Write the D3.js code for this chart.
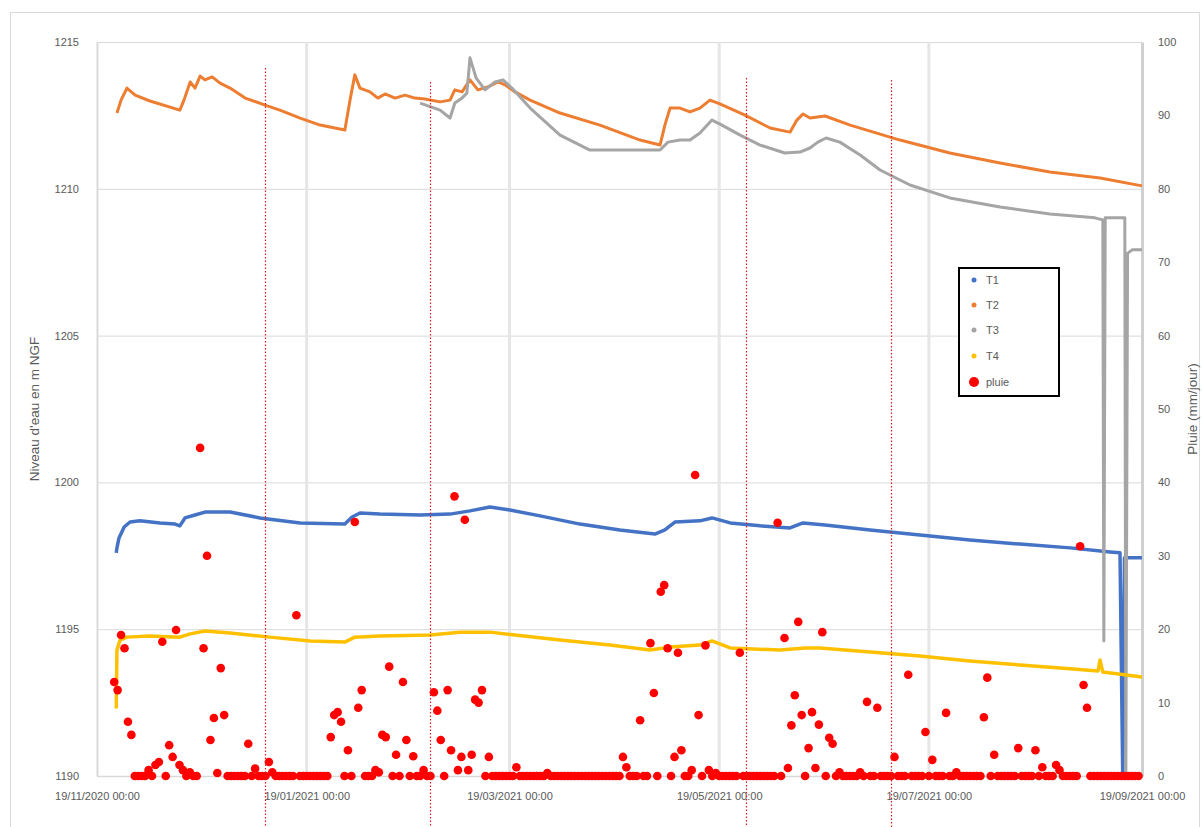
<!DOCTYPE html>
<html><head><meta charset="utf-8">
<script src="https://cdn.jsdelivr.net/npm/d3@7"></script>
<style>body{margin:0;background:#fff}svg{display:block}text{font-family:"Liberation Sans",Arial,sans-serif}</style>
</head><body>
<script>
// ---- data ----
const startDate = Date.UTC(2020, 10, 19);           // 19/11/2020 00:00
const endDate = Date.UTC(2021, 8, 19);              // 19/09/2021 00:00
const xTickDates = [Date.UTC(2020,10,19), Date.UTC(2021,0,19), Date.UTC(2021,2,19), Date.UTC(2021,4,19), Date.UTC(2021,6,19), Date.UTC(2021,8,19)];
const leftTicks = [1190, 1195, 1200, 1205, 1210, 1215];
const rightTicks = [0,10,20,30,40,50,60,70,80,90,100];
const seriesNames = ["T1","T2","T3","T4"];
const seriesColors = ["#4472c4","#ed7d31","#a5a5a5","#ffc000"];
const rainName = "pluie";
// [day offset from 19/11/2020, level m NGF]
const t1 = [[5.6,1197.6],[5.8,1197.77],[6.4,1198.11],[7.9,1198.48],[9.6,1198.65],[12.5,1198.69],[18.3,1198.62],[22.7,1198.58],[24.1,1198.52],[25.6,1198.79],[28.5,1198.89],[31.4,1198.99],[38.7,1198.99],[47.4,1198.79],[59.1,1198.62],[72.1,1198.58],[74.2,1198.82],[76.5,1198.96],[82.3,1198.92],[94,1198.89],[102.7,1198.92],[108.5,1199.03],[114.3,1199.16],[120.1,1199.06],[128.9,1198.86],[140.5,1198.58],[152.1,1198.38],[162.3,1198.24],[165.2,1198.38],[168.1,1198.65],[175.4,1198.69],[178.9,1198.79],[184.2,1198.62],[192.9,1198.52],[201.6,1198.45],[205.4,1198.62],[211.8,1198.55],[224.9,1198.38],[239.4,1198.21],[253.9,1198.04],[268.5,1197.9],[283.1,1197.77],[294.7,1197.63],[297.6,1197.6],[298.4,1190.0],[298.9,1197.43],[304,1197.43]];
const t2 = [[5.8,1212.58],[7.0,1213.02],[8.7,1213.43],[11.1,1213.19],[15.4,1212.99],[24.1,1212.68],[25.3,1213.02],[27.1,1213.64],[28.5,1213.43],[30,1213.84],[31.4,1213.71],[33.5,1213.81],[35.8,1213.6],[38.7,1213.43],[43.1,1213.09],[48.9,1212.85],[53.2,1212.68],[59.1,1212.41],[64.9,1212.17],[72.1,1212.0],[73.6,1213.02],[75,1213.88],[76.5,1213.43],[79.4,1213.3],[81.7,1213.09],[83.8,1213.23],[86.7,1213.09],[89.6,1213.19],[92.5,1213.09],[95.4,1213.06],[99.8,1212.96],[102.7,1213.02],[104.1,1213.37],[106.2,1213.3],[108.5,1213.71],[110.8,1213.37],[113.7,1213.47],[116.7,1213.64],[118.7,1213.54],[121.6,1213.3],[126,1213.02],[134.7,1212.58],[146.3,1212.17],[158,1211.66],[163.8,1211.49],[165.2,1212.17],[166.7,1212.75],[169.6,1212.75],[172.5,1212.62],[175.4,1212.75],[178.3,1213.02],[181.2,1212.89],[188.5,1212.51],[195.8,1212.07],[201.6,1211.93],[203.6,1212.34],[205.4,1212.55],[207.4,1212.41],[211.8,1212.48],[219.1,1212.17],[233.6,1211.66],[248.1,1211.22],[262.7,1210.88],[277.2,1210.57],[291.8,1210.37],[304,1210.1]];
const t3 = [[94,1212.92],[99.8,1212.68],[102.7,1212.41],[104.1,1212.92],[106.2,1213.09],[107.6,1213.26],[108.5,1214.46],[110.3,1213.77],[112.9,1213.37],[115.8,1213.64],[118.1,1213.71],[120.7,1213.43],[126,1212.75],[134.7,1211.83],[143.4,1211.32],[158,1211.32],[163.8,1211.32],[166.1,1211.59],[169.6,1211.66],[172.5,1211.66],[175.4,1211.9],[178.9,1212.34],[181.8,1212.17],[187.1,1211.83],[192.9,1211.49],[200.1,1211.22],[204.5,1211.25],[207.4,1211.39],[209.7,1211.59],[212.1,1211.73],[216.1,1211.59],[222,1211.15],[227.8,1210.64],[236.5,1210.13],[248.1,1209.69],[262.7,1209.38],[277.2,1209.14],[290.3,1209.01],[292.6,1208.94],[292.9,1194.6],[293.3,1209.01],[299.0,1209.01],[299.3,1190.0],[299.8,1207.8],[301.1,1207.92],[304,1207.92]];
const t4 = [[5.6,1192.3],[5.8,1194.29],[6.7,1194.63],[8.7,1194.73],[15.4,1194.77],[24.1,1194.73],[27.1,1194.84],[31.4,1194.94],[38.7,1194.87],[50.3,1194.73],[62,1194.6],[72.1,1194.56],[75,1194.73],[82.3,1194.77],[96.9,1194.8],[105.6,1194.9],[114.3,1194.9],[121.6,1194.8],[134.7,1194.63],[149.2,1194.46],[160.9,1194.29],[166.7,1194.39],[175.4,1194.46],[178.9,1194.6],[184.2,1194.36],[198.7,1194.29],[206,1194.36],[210.3,1194.36],[224.9,1194.22],[239.4,1194.09],[253.9,1193.92],[268.5,1193.78],[283.1,1193.65],[291.2,1193.58],[291.8,1193.95],[292.6,1193.54],[304,1193.37]];
// daily rain (mm), first value = day 5 (24/11/2020)
const rainFirstDay = 5;
const rain = [
12.8,11.7,19.2,17.4,7.4,5.6,0,0,0,0,
0.8,0,1.5,1.9,18.3,0,4.2,2.6,19.9,1.5,
0.8,0,0.5,0,0,44.7,17.4,30.0,4.9,7.9,
0.4,14.7,8.3,0,0,0,0,0,0,4.4,
0,1.0,0,0,0,1.9,0.5,0,0,0,
0,0,0,21.9,0,0,0,0,0,0,
0,0,0,5.3,8.3,8.7,7.4,0,3.5,0,
34.6,9.3,11.7,0,0,0,0.8,0.5,5.6,5.3,
14.9,0,2.9,0,12.8,4.9,0,2.7,0,0,
0.8,0,0,11.4,8.9,4.9,0,11.7,3.5,38.1,
0.8,2.6,34.9,0.8,2.9,10.4,10.0,11.7,0,2.6,
0,0,0,0,0,0,0,1.2,0,0,
0,0,0,0,0,0,0.4,0,0,0,
0,0,0,0,0,0,0,0,0,0,
0,0,0,0,0,0,0,0,2.6,1.2,
0,0,0,7.6,0,0,18.1,11.3,0,25.1,
26.0,17.4,0,2.6,16.8,3.5,0,0,0.8,41.0,
8.3,0,17.8,0.8,0,0.4,0,0,0,0,
0,0,16.8,0,0,0,0,0,0,0,
0,0,0,34.5,0,18.8,1.1,6.9,11.0,21.0,
8.3,0,3.8,8.7,1.1,7.0,19.6,0,5.2,4.4,
0,0.5,0,0,0,0,0,0.5,0,10.1,
0,0,9.3,0,0,0,0,2.6,0,0,
0,13.8,0,0,0,0,6.0,0,2.2,0,
0,0,8.6,0,0,0.5,0,0,0,0,
0,0,0,8.0,13.4,0,2.9,0,0,0,
0,0,0,3.8,0,0,0,0,3.5,0,
1.2,0,0,0,1.5,0.8,0,0,0,0,
0,31.3,12.4,9.3,0,0,0,0,0,0,
0,0,0,0,0,0,0,0,0];
// annotation (red dotted verticals), day offsets
const markerDays = [48.9, 96.9, 188.8, 231.0];
const leftTitle = "Niveau d'eau en m NGF";
const rightTitle = "Pluie (mm/jour)";

// ---- drawing ----
const W = 1202, H = 827;
const m = {l: 97, r: 1142, t: 42, b: 776};
const day = 86400000;
const toDate = d => new Date(startDate + d * day);
const svg = d3.select("body").append("svg").attr("width", W).attr("height", H);

svg.append("rect").attr("x", 10.5).attr("y", 12.5).attr("width", 1189).attr("height", 830)
  .attr("fill", "#fff").attr("stroke", "#d9d9d9");

const x = d3.scaleUtc().domain([new Date(startDate), new Date(endDate)]).range([m.l, m.r]);
const yL = d3.scaleLinear().domain([1190, 1215]).range([m.b, m.t]);
const yR = d3.scaleLinear().domain([0, 100]).range([m.b, m.t]);

// gridlines
svg.append("g").selectAll("line").data(leftTicks).join("line")
  .attr("x1", m.l).attr("x2", m.r).attr("y1", d => yL(d) + 0.5).attr("y2", d => yL(d) + 0.5)
  .attr("stroke", "#d9d9d9").attr("stroke-width", 1);
svg.append("g").selectAll("line").data(xTickDates.slice(1, -1)).join("line")
  .attr("x1", d => x(new Date(d))).attr("x2", d => x(new Date(d)))
  .attr("y1", m.t).attr("y2", m.b).attr("stroke", "#e6e6e6").attr("stroke-width", 3);

// axes
const fmt = d3.utcFormat("%d/%m/%Y %H:%M");
const gx = svg.append("g").attr("transform", `translate(0,${m.b})`)
  .call(d3.axisBottom(x).tickValues(xTickDates.map(d => new Date(d))).tickFormat(fmt).tickSize(0).tickPadding(16));
const gl = svg.append("g").attr("transform", `translate(${m.l},0)`)
  .call(d3.axisLeft(yL).tickValues(leftTicks).tickFormat(d3.format("d")).tickSize(0).tickPadding(18));
const gr = svg.append("g").attr("transform", `translate(${m.r},0)`)
  .call(d3.axisRight(yR).tickValues(rightTicks).tickFormat(d3.format("d")).tickSize(0).tickPadding(16));
[gx, gl, gr].forEach(g => {
  g.selectAll("text").attr("fill", "#595959").attr("font-size", 11);
  g.select(".domain").attr("stroke", "#d9d9d9").attr("stroke-width", 1.5);
});
gr.select(".domain").attr("stroke-width", 3).attr("stroke", "#d0d0d0");
gl.select(".domain").attr("stroke-width", 2);

// axis titles
svg.append("text").attr("transform", `translate(39,${(m.t + m.b) / 2}) rotate(-90)`)
  .attr("text-anchor", "middle").attr("font-size", 13.5).attr("fill", "#595959").text(leftTitle);
svg.append("text").attr("transform", `translate(1197,${(m.t + m.b) / 2}) rotate(-90)`)
  .attr("text-anchor", "middle").attr("font-size", 13.5).attr("fill", "#595959").text(rightTitle);

// lines
const line = d3.line().x(d => x(toDate(d[0]))).y(d => yL(d[1]));
const allSeries = [t1, t2, t3, t4];
allSeries.forEach((s, i) => {
  svg.append("path").datum(s).attr("d", line).attr("fill", "none")
    .attr("stroke", seriesColors[i]).attr("stroke-width", i === 0 || i === 3 ? 3.5 : 3)
    .attr("stroke-linejoin", "round");
});

// rain
const rainPts = rain.map((v, i) => [rainFirstDay + i, v]);
svg.append("g").selectAll("circle").data(rainPts).join("circle")
  .attr("cx", d => x(toDate(d[0]))).attr("cy", d => yR(d[1])).attr("r", 4.3).attr("fill", "#ff0000");

// annotation dotted lines
const markerTops = [68, 82, 78, 80];
svg.append("g").selectAll("line").data(markerDays).join("line")
  .attr("x1", d => Math.round(x(toDate(d))) + 0.5).attr("x2", d => Math.round(x(toDate(d))) + 0.5)
  .attr("y1", (d, i) => markerTops[i]).attr("y2", H)
  .attr("stroke", "#e8161b").attr("stroke-width", 1.2).attr("stroke-dasharray", "1.5,2");

// legend
const lg = svg.append("g").attr("transform", "translate(959,268)");
lg.append("rect").attr("width", 100).attr("height", 128).attr("fill", "#fff").attr("stroke", "#000").attr("stroke-width", 2);
const legItems = seriesNames.map((n, i) => ({n, c: seriesColors[i], r: 2.5})).concat([{n: rainName, c: "#ff0000", r: 5}]);
const rowsY = [12, 37, 62, 88, 114];
legItems.forEach((it, i) => {
  lg.append("circle").attr("cx", 15).attr("cy", rowsY[i]).attr("r", it.r).attr("fill", it.c);
  lg.append("text").attr("x", 27).attr("y", rowsY[i] + 4).attr("font-size", 11).attr("fill", "#595959").text(it.n);
});
</script>
</body></html>
